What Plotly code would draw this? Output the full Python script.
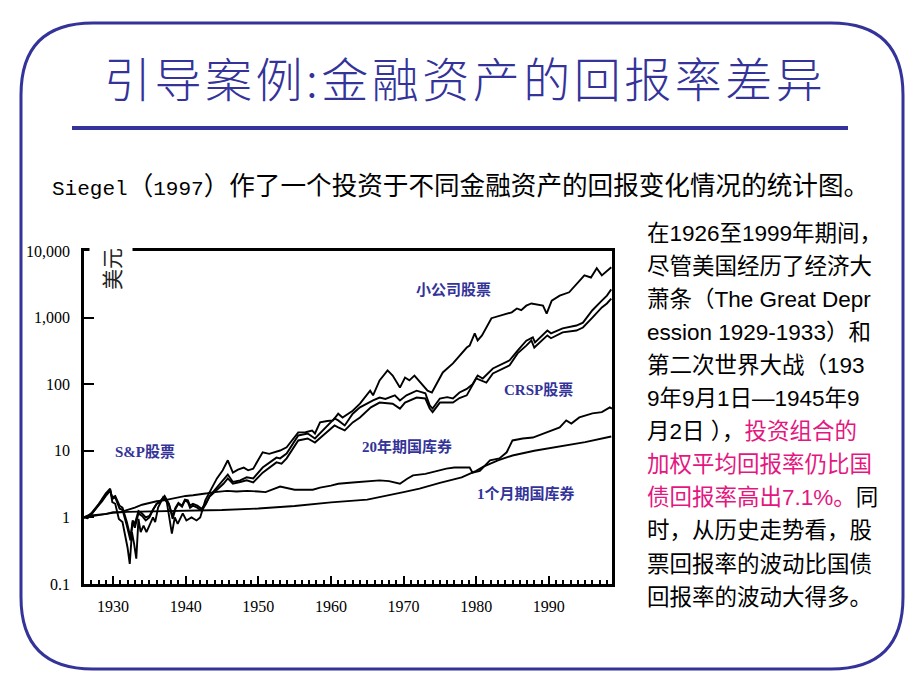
import plotly.graph_objects as go

# ---------------- data ----------------
SMALL_YEARS = [1926.0, 1926.5, 1927.0, 1927.5, 1928.0, 1928.5, 1929.0, 1929.6, 1929.9, 1930.3,
               1930.8, 1931.3, 1931.7, 1932.0, 1932.3, 1932.6, 1932.9, 1933.2, 1933.5, 1933.8,
               1934.2, 1934.6, 1935.0, 1935.5, 1935.8, 1936.2, 1936.9, 1937.4, 1938.1, 1938.5,
               1938.9, 1939.6, 1940.1, 1940.8, 1941.5, 1942.0, 1942.7, 1943.3, 1944.3, 1945.1,
               1945.8, 1946.5, 1947.2, 1948.0, 1948.6, 1949.3, 1950.6, 1951.5, 1953.0, 1953.9,
               1955.5, 1956.5, 1957.4, 1957.8, 1958.5, 1959.5, 1960.3, 1961.0, 1961.6, 1963.0,
               1964.0, 1965.4, 1965.8, 1966.7, 1967.8, 1968.5, 1969.5, 1970.2, 1970.8, 1971.5,
               1972.5, 1973.3, 1973.9, 1974.6, 1975.4, 1976.8, 1977.7, 1978.7, 1979.1, 1979.8,
               1980.2, 1980.8, 1982.1, 1983.5, 1984.9, 1985.6, 1986.2, 1986.9, 1987.6, 1989.2,
               1989.7, 1990.4, 1991.5, 1992.8, 1993.9, 1994.9, 1995.8, 1996.6, 1997.3, 1998.0,
               1998.6]
SMALL_VALUES = [1.0, 0.97, 1.1, 1.3, 1.55, 1.9, 2.3, 2.7, 1.7, 1.6,
                0.95, 0.85, 0.5, 0.35, 0.2, 0.6, 0.4, 0.24, 0.95, 0.6,
                0.75, 0.6, 0.75, 1.0, 0.85, 1.4, 2.0, 1.7, 0.57, 1.0,
                0.8, 1.15, 0.9, 1.0, 0.9, 1.0, 1.8, 2.4, 3.85, 5.1,
                7.2, 4.7, 5.2, 5.6, 5.1, 5.4, 9.5, 9.0, 10.1, 11.3,
                18.9, 19.0, 20.2, 18.2, 26.7, 28.0, 28.6, 36, 31.6, 40,
                51, 80, 68, 114, 161, 135, 89, 126, 114, 135,
                103, 80, 75, 106, 150, 205, 270, 355, 380, 580,
                455, 540, 980, 1090, 1200, 1370, 1290, 1510, 1630, 1510,
                1150, 1800, 2140, 2400, 3270, 4300, 4000, 5500, 4300, 5100,
                5700]

CRSP_YEARS = [1926.0, 1926.5, 1927.0, 1927.5, 1928.0, 1928.5, 1929.0, 1929.6, 1929.9, 1930.3,
              1930.9, 1931.3, 1931.9, 1932.4, 1932.7, 1933.0, 1933.5, 1934.0, 1934.5, 1935.0,
              1935.5, 1936.0, 1936.5, 1937.1, 1937.7, 1938.2, 1938.6, 1939.0, 1939.5, 1939.9,
              1940.3, 1940.6, 1941.0, 1941.6, 1942.2, 1942.8, 1943.3, 1944.3, 1945.2, 1945.8,
              1946.5, 1947.5, 1948.4, 1949.3, 1950.6, 1952.5, 1953.0, 1953.9, 1955.5, 1956.8,
              1957.8, 1958.9, 1960.5, 1961.0, 1961.9, 1963.0, 1964.0, 1965.8, 1966.7, 1967.5,
              1968.8, 1969.5, 1970.4, 1971.8, 1973.0, 1973.6, 1974.0, 1975.0, 1976.0, 1976.8,
              1977.7, 1978.7, 1979.5, 1980.2, 1980.9, 1982.3, 1984.6, 1985.7, 1986.9, 1987.8,
              1988.1, 1989.8, 1990.3, 1991.9, 1993.8, 1994.7, 1996.0, 1997.3, 1998.0, 1998.6]
CRSP_VALUES = [1.0, 1.05, 1.15, 1.35, 1.55, 1.8, 2.2, 2.6, 1.9, 2.0,
               1.35, 1.3, 0.75, 0.45, 0.85, 0.7, 1.15, 1.05, 0.9, 1.0,
               1.3, 1.6, 1.75, 2.1, 1.6, 0.95, 1.35, 1.6, 1.45, 1.8,
               1.7, 1.4, 1.5, 1.4, 1.25, 1.6, 2.1, 2.8, 3.6, 4.4,
               3.4, 3.6, 4.0, 3.85, 5.6, 7.9, 7.7, 9.1, 17, 18.2,
               15.3, 20.2, 30.6, 28.6, 24, 36, 45, 57, 63, 60,
               68, 57, 68, 80, 73, 48, 43, 61, 64, 61,
               75, 85, 100, 135, 122, 172, 228, 320, 450, 505,
               425, 640, 580, 690, 760, 840, 1290, 1800, 2140, 2650]

SP_YEARS = [1926.0, 1926.5, 1927.0, 1927.5, 1928.0, 1928.5, 1929.0, 1929.6, 1929.9, 1930.3,
            1930.9, 1931.3, 1931.9, 1932.4, 1932.7, 1933.0, 1933.5, 1934.0, 1934.5, 1935.0,
            1935.5, 1936.0, 1936.5, 1937.1, 1937.7, 1938.2, 1938.6, 1939.0, 1939.5, 1939.9,
            1940.3, 1940.6, 1941.0, 1941.6, 1942.2, 1942.8, 1943.3, 1944.3, 1945.2, 1945.8,
            1946.5, 1947.5, 1948.4, 1949.3, 1950.6, 1952.5, 1953.2, 1953.9, 1955.5, 1956.8,
            1957.8, 1958.9, 1960.5, 1961.0, 1961.9, 1963.0, 1964.0, 1965.5, 1966.7, 1968.5,
            1969.5, 1970.2, 1971.8, 1973.0, 1973.6, 1974.0, 1975.0, 1976.8, 1977.7, 1978.7,
            1980.0, 1981.4, 1982.3, 1984.6, 1985.7, 1986.9, 1987.6, 1988.0, 1989.8, 1990.3,
            1991.9, 1993.8, 1994.7, 1996.0, 1997.3, 1998.0, 1998.6]
SP_VALUES = [1.0, 1.07, 1.12, 1.3, 1.5, 1.75, 2.1, 2.5, 2.0, 2.1,
             1.5, 1.4, 0.85, 0.5, 0.9, 0.8, 1.25, 1.15, 1.0, 1.05,
             1.3, 1.6, 1.7, 2.0, 1.55, 1.05, 1.4, 1.65, 1.5, 1.85,
             1.8, 1.5, 1.6, 1.5, 1.35, 1.65, 2.05, 2.6, 3.2, 3.85,
             3.2, 3.4, 3.6, 3.35, 4.7, 6.7, 6.4, 7.7, 14.3, 15.3,
             13.3, 17, 24, 22.5, 20.2, 26.7, 31.6, 45, 53, 51,
             43, 53, 63, 61, 43, 38, 53, 53, 62, 68,
             122, 106, 145, 192, 290, 380, 455, 355, 540, 490,
             600, 640, 710, 1000, 1420, 1630, 1930]

BOND_YEARS = [1926, 1927, 1928, 1929, 1930, 1931, 1932, 1933, 1934, 1935,
              1936, 1937, 1938, 1939, 1940, 1941, 1942, 1943, 1944, 1945.7,
              1947, 1948.5, 1950, 1951, 1953, 1955, 1957.5, 1958.5, 1960, 1961,
              1963, 1965, 1966.7, 1968, 1969.5, 1970.5, 1971.3, 1973, 1975.9, 1977,
              1979.1, 1979.5, 1980.5, 1981.9, 1983.2, 1984.2, 1985.0, 1986.4, 1987.8, 1989.7,
              1991.5, 1992.4, 1993.1, 1994.2, 1996.0, 1997.3, 1998.4, 1998.7]
BOND_VALUES = [1.0, 1.07, 1.1, 1.12, 1.2, 1.2, 1.3, 1.4, 1.55, 1.65,
               1.75, 1.8, 1.9, 2.0, 2.1, 2.15, 2.2, 2.3, 2.4, 2.5,
               2.45, 2.5, 2.45, 2.4, 2.9, 2.6, 2.6, 2.8, 3.0, 3.2,
               3.35, 3.5, 3.6, 3.5, 3.2, 3.8, 4.27, 4.5, 5.4, 5.6,
               5.6, 4.7, 5.0, 7.2, 7.7, 9.5, 14.3, 15.3, 15.8, 18.9,
               22.5, 28.6, 25.7, 31.7, 36.5, 38, 44.8, 43]

BILL_YEARS = [1926, 1927, 1928, 1929, 1930, 1932, 1935, 1940, 1945, 1950,
              1955, 1960, 1965, 1970, 1972.2, 1975, 1978, 1980, 1981, 1983,
              1985, 1988, 1990, 1992.5, 1995, 1998.6]
BILL_VALUES = [1.0, 1.03, 1.08, 1.13, 1.17, 1.21, 1.23, 1.25, 1.29, 1.36,
               1.48, 1.68, 1.85, 2.4, 2.7, 3.3, 4.0, 5.0, 5.8, 7.2,
               8.5, 10.0, 10.9, 12.0, 13.5, 16.4]

X_TICK_VALUES = [1930, 1940, 1950, 1960, 1970, 1980, 1990]
X_TICK_LABELS = ["1930", "1940", "1950", "1960", "1970", "1980", "1990"]
Y_TICK_VALUES = [0.1, 1, 10, 100, 1000, 10000]
Y_TICK_LABELS = ["0.1", "1", "10", "100", "1,000", "10,000"]

TITLE = "引导案例:金融资产的回报率差异"
RIGHT_TEXT_LINES = [
    [("在1926至1999年期间，", "k")],
    [("尽管美国经历了经济大", "k")],
    [("萧条（The Great Depr", "k")],
    [("ession 1929-1933）和", "k")],
    [("第二次世界大战（193", "k")],
    [("9年9月1日—1945年9", "k")],
    [("月2日 ），", "k"), ("投资组合的", "m")],
    [("加权平均回报率仍比国", "m")],
    [("债回报率高出7.1%。", "m"), ("同", "k")],
    [("时，从历史走势看，股", "k")],
    [("票回报率的波动比国债", "k")],
    [("回报率的波动大得多。", "k")],
]

# ---------------- layout geometry ----------------
W, H = 920, 690
L, R, T, B = 84, 612, 251, 584
PW, PH = R - L, B - T
BLUE = "#333399"
MAGENTA = "#E4177F"


def pp(x, y):
    """pixel -> paper coordinates"""
    return (x - L) / PW, (B - y) / PH


fig = go.Figure()
for xs, ys in [(SMALL_YEARS, SMALL_VALUES), (CRSP_YEARS, CRSP_VALUES), (SP_YEARS, SP_VALUES),
               (BOND_YEARS, BOND_VALUES), (BILL_YEARS, BILL_VALUES)]:
    fig.add_trace(go.Scatter(x=xs, y=ys, mode="lines",
                             line=dict(color="black", width=1.9),
                             hoverinfo="skip", showlegend=False))

fig.update_layout(
    width=W, height=H, autosize=False,
    margin=dict(l=L, r=W - R, t=T, b=H - B, pad=0),
    paper_bgcolor="white", plot_bgcolor="white",
    showlegend=False,
)
fig.update_xaxes(
    range=[1926.0, 1998.7], tickmode="array", tickvals=X_TICK_VALUES, ticktext=X_TICK_LABELS,
    ticks="inside", ticklen=8, tickwidth=2, tickcolor="black",
    showline=True, linewidth=2.5, linecolor="black", mirror=True,
    showgrid=False, zeroline=False,
    tickfont=dict(family="Liberation Serif, serif", size=16, color="black"),
    ticklabelstandoff=6,
    minor=dict(tickvals=list(range(1927, 1999)), ticks="inside", ticklen=4,
               tickwidth=1.5, tickcolor="black", showgrid=False),
)
fig.update_yaxes(
    type="log", range=[-1, 4], tickmode="array", tickvals=Y_TICK_VALUES, ticktext=Y_TICK_LABELS,
    ticks="inside", ticklen=10, tickwidth=2, tickcolor="black",
    showline=True, linewidth=2.5, linecolor="black", mirror=True,
    showgrid=False, zeroline=False,
    tickfont=dict(family="Liberation Serif, serif", size=16, color="black"),
    ticklabelstandoff=8,
)

ann = []
# unit label
ux, uy = pp(111, 269)
ann.append(dict(xref="paper", yref="paper", x=ux, y=uy, text="美元", showarrow=False,
                textangle=-90, font=dict(family="Noto Sans CJK SC", size=21, color="#222222"),
                bgcolor="white", borderpad=6, xanchor="center", yanchor="middle"))

# series labels
lab_font = dict(family="Liberation Serif, Noto Sans CJK SC", size=15, color=BLUE)
for text, x, y in [("<b>小公司股票</b>", 453, 290), ("<b>CRSP股票</b>", 538, 390),
                   ("<b>S&P股票</b>", 145, 452), ("<b>20年期国库券</b>", 407, 446),
                   ("<b>1个月期国库券</b>", 526, 493)]:
    ax, ay = pp(x, y)
    ann.append(dict(xref="paper", yref="paper", x=ax, y=ay, text=text, showarrow=False,
                    font=lab_font, xanchor="center", yanchor="middle"))

# title
tx, ty = pp(465, 76)
ann.append(dict(xref="paper", yref="paper", x=tx, y=ty,
                text=f"<span style=\"letter-spacing:3.5px\">{TITLE}</span>", showarrow=False,
                font=dict(family="Noto Sans CJK SC", size=47, color=BLUE, weight=300),
                xanchor="center", yanchor="middle"))

# subtitle
sx, sy = pp(50, 183)
mono = "font-family:'Liberation Mono',monospace;font-size:21px"
sub = (f"<span style=\"{mono}\">Siegel</span>（<span style=\"{mono}\">1997</span>）"
       "作了一个投资于不同金融资产的回报变化情况的统计图。")
ann.append(dict(xref="paper", yref="paper", x=sx, y=sy, text=sub, showarrow=False,
                font=dict(family="Noto Sans CJK SC", size=25.6, color="black"),
                xanchor="left", yanchor="middle"))

# right text block
for i, parts in enumerate(RIGHT_TEXT_LINES):
    y = 233 + i * 33.1
    txt = "".join(
        f"<span style=\"color:{MAGENTA}\">{s}</span>" if c == "m" else s for s, c in parts)
    rx, ry = pp(645, y)
    ann.append(dict(xref="paper", yref="paper", x=rx, y=ry, text=txt, showarrow=False,
                    font=dict(family="Liberation Sans, Noto Sans CJK SC", size=22.5, color="black"),
                    xanchor="left", yanchor="middle"))

fig.update_layout(annotations=ann)

# slide frame (rounded rectangle) and title rule
fl, ft, fr, fb, rad = 21, 23, 903, 669, 72
pts = lambda x, y: "%.5f,%.5f" % pp(x, y)
path = (f"M {pts(fl, ft + rad)} Q {pts(fl, ft)} {pts(fl + rad, ft)} "
        f"L {pts(fr - rad, ft)} Q {pts(fr, ft)} {pts(fr, ft + rad)} "
        f"L {pts(fr, fb - rad)} Q {pts(fr, fb)} {pts(fr - rad, fb)} "
        f"L {pts(fl + rad, fb)} Q {pts(fl, fb)} {pts(fl, fb - rad)} Z")
x0, y0 = pp(72, 128)
x1, _ = pp(848, 128)
fig.update_layout(shapes=[
    dict(type="path", xref="paper", yref="paper", path=path,
         line=dict(color=BLUE, width=3), layer="above"),
    dict(type="line", xref="paper", yref="paper", x0=x0, y0=y0, x1=x1, y1=y0,
         line=dict(color=BLUE, width=4)),
])

fig.write_html("out.html", config={"displayModeBar": False},
               post_script="document.body.style.margin='0px';")
